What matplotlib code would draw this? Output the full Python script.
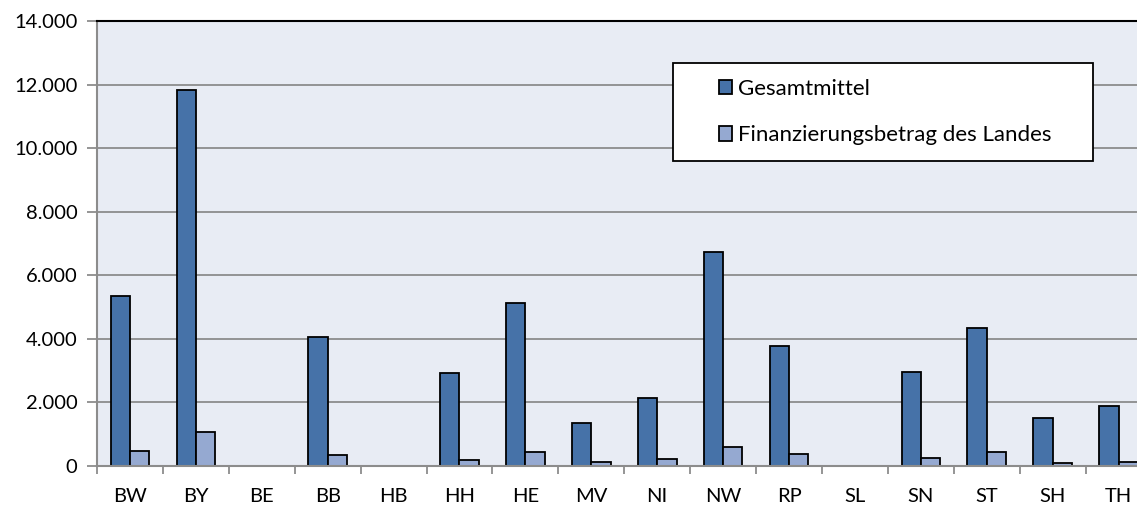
import matplotlib
matplotlib.use("Agg")
from matplotlib import pyplot as plt
from matplotlib.patches import Rectangle
from matplotlib.ticker import FuncFormatter, MultipleLocator
import numpy as np

# Bundeslaender (Kuerzel)
laender = ["BW", "BY", "BE", "BB", "HB", "HH", "HE", "MV",
           "NI", "NW", "RP", "SL", "SN", "ST", "SH", "TH"]
gesamtmittel = [5350, 11830, 0, 4050, 0, 2915, 5135, 1345,
                2150, 6740, 3765, 0, 2955, 4350, 1520, 1890]
landesbetrag = [465, 1070, 0, 355, 0, 180, 430, 115,
                220, 605, 390, 0, 250, 430, 105, 135]
series_names = ["Gesamtmittel", "Finanzierungsbetrag des Landes"]

DARK = "#4672a8"
LIGHT = "#95a9d1"
BG = "#e8ecf4"
GRID = "#8c8c8c"

plt.rcParams["font.family"] = ["Lato", "DejaVu Sans"]

W, H = 1137, 508
fig = plt.figure(figsize=(W / 100, H / 100), dpi=100)

# plot area in pixels; the right edge runs past the picture (cropped in the original)
left, right, top, bottom = 97, 1151.5, 21, 466
ax = fig.add_axes([left / W, 1 - bottom / H, (right - left) / W, (bottom - top) / H])
ax.set_facecolor(BG)

x = np.arange(len(laender))
bw = 0.293
ax.bar(x - bw / 2, gesamtmittel, bw, color=DARK, edgecolor="black",
       linewidth=1.3, label=series_names[0], zorder=3)
ax.bar(x + bw / 2, landesbetrag, bw, color=LIGHT, edgecolor="black",
       linewidth=1.3, label=series_names[1], zorder=3)

ax.set_xlim(-0.5, len(laender) - 0.5)
ax.set_ylim(0, 14000)

ax.yaxis.set_major_locator(MultipleLocator(2000))
ax.yaxis.set_major_formatter(FuncFormatter(lambda v, _: f"{int(v):,}".replace(",", ".")))
ax.grid(axis="y", color=GRID, linewidth=1.3, zorder=0)

ax.set_xticks(x)
ax.set_xticklabels(laender)
ax.set_xticks(np.arange(-0.5, len(laender)), minor=True)
ax.tick_params(axis="x", which="major", length=0, pad=16, labelsize=14.5)
ax.tick_params(axis="x", which="minor", length=6, width=1.3, color=GRID)
ax.tick_params(axis="y", length=7, width=1.3, color=GRID, pad=7, labelsize=14.5)

for s in ["left", "bottom"]:
    ax.spines[s].set_color(GRID)
    ax.spines[s].set_linewidth(1.5)
ax.spines["top"].set_color("black")
ax.spines["top"].set_linewidth(1.5)
ax.spines["right"].set_visible(False)
for s in ax.spines.values():
    s.set_zorder(4)

# legend box
lx0, ly0, lx1, ly1 = 673, 63, 1093, 161
ax.add_patch(Rectangle((lx0 / W, 1 - ly1 / H), (lx1 - lx0) / W, (ly1 - ly0) / H,
                       transform=fig.transFigure, facecolor="white", clip_on=False,
                       edgecolor="black", linewidth=1.3, zorder=5))
leg = ax.legend(loc="center left", bbox_to_anchor=(719 / W, 1 - 112 / H),
                bbox_transform=fig.transFigure, frameon=False, fontsize=16,
                handlelength=0.6, handleheight=0.6, handletextpad=0.25,
                labelspacing=1.2, borderpad=0, borderaxespad=0)
leg.set_zorder(6)

fig.savefig("out.png", dpi=100)
